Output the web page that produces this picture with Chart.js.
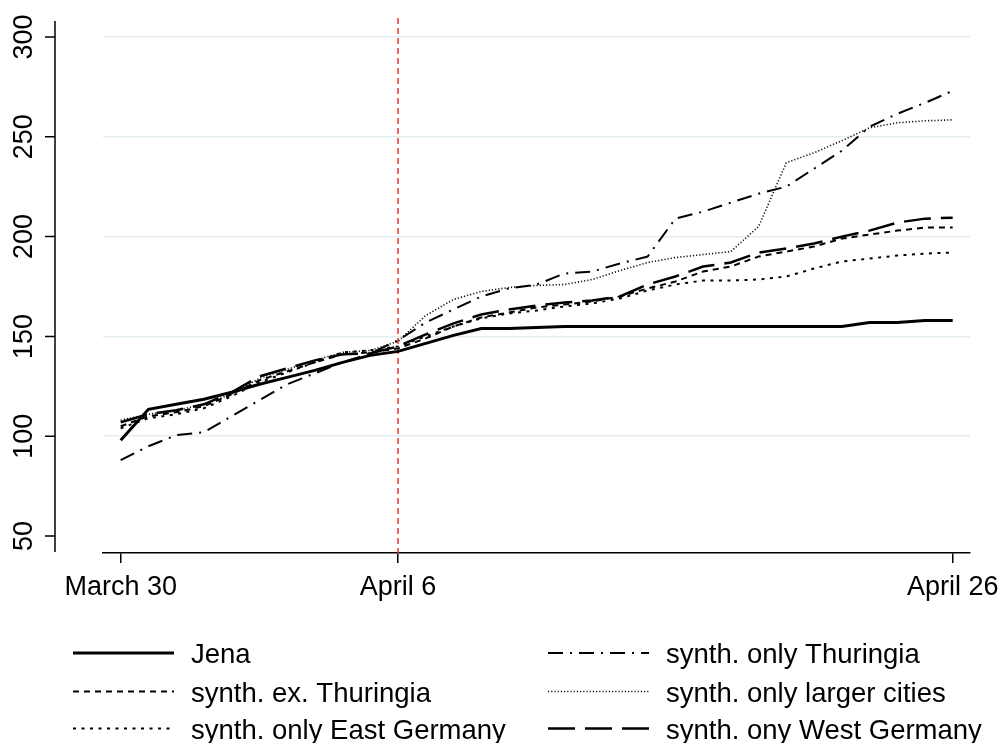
<!DOCTYPE html>
<html>
<head>
<meta charset="utf-8">
<script src="https://cdn.jsdelivr.net/npm/chart.js@4.4.1/dist/chart.umd.min.js"></script>
<style>
  html, body { margin: 0; padding: 0; background: #fff; }
  #wrap { width: 1002px; height: 743px; position: relative; }
</style>
</head>
<body>
<div id="wrap"><canvas id="cases"></canvas></div>
<script>
// period index along the x axis (March 30 = 0, April 6 = 10, April 26 = 30)
const periods = [0, 1, 2, 3, 4, 5, 6, 7, 8, 9, 10, 11, 12, 13, 14, 15, 16, 17, 18, 19, 20, 21, 22, 23, 24, 25, 26, 27, 28, 29, 30];

const xTickValues = [0, 10, 30];
const xTickLabels = ['March 30', 'April 6', 'April 26'];
const yTickValues = [50, 100, 150, 200, 250, 300];
const eventPeriod = 10;

const jena = [98, 113.5, 116, 118.5, 122, 126, 129.5, 133, 137, 140.5, 142.5, 146.5, 150.5, 154, 154, 154.5, 155, 155, 155, 155, 155, 155, 155, 155, 155, 155, 155, 157, 157, 158, 158];
const exThuringia = [105, 110, 112, 115, 121, 128, 132.5, 137, 141, 142, 144, 149, 155, 159.5, 162, 164.5, 166, 167.5, 170, 174, 177.5, 182.5, 185, 190, 192.5, 195, 199, 201, 203, 204.5, 204.5];
const onlyEast = [104, 109, 111, 114, 120, 127, 132, 137, 142, 143, 145, 150, 155, 159, 161.5, 163, 165, 166.5, 169, 173, 176, 178, 178, 178.5, 180, 184, 187.5, 189, 190.5, 191.5, 192];
const onlyThuringia = [88, 95, 100.5, 102, 110, 118, 126, 131.5, 137, 141.5, 148, 157, 163.5, 170, 174, 176, 181.5, 182.5, 186.5, 190, 209, 212.5, 217, 221.5, 225, 234, 243, 255, 261.5, 267, 273];
const largerCities = [108, 111, 113, 116, 121, 129, 133.5, 138, 142, 143, 147.5, 160.5, 168.5, 172.5, 174.5, 175.5, 176, 178.5, 183, 187, 189.5, 191, 192.5, 205, 237, 242, 248, 254.5, 257, 258, 258.5];
const onlyWest = [107, 111, 113, 116, 122, 130, 134, 138, 141, 141.5, 145, 151, 156.5, 161, 163.5, 165.5, 167, 168, 170, 176, 180, 185, 187, 192, 194, 196.5, 200, 203, 207, 209, 209.5];

const seriesNames = ['Jena', 'synth. ex. Thuringia', 'synth. only East Germany', 'synth. only Thuringia', 'synth. only larger cities', 'synth. ony West Germany'];

function toPoints(values) {
  return values.map((v, i) => ({ x: periods[i], y: v }));
}

const lineStyles = [
  { borderColor: '#000', borderWidth: 3, borderDash: [] },
  { borderColor: '#000', borderWidth: 2, borderDash: [6, 5] },
  { borderColor: '#000', borderWidth: 2, borderDash: [3, 5.5] },
  { borderColor: '#000', borderWidth: 2, borderDash: [15, 7, 2, 7] },
  { borderColor: '#111', borderWidth: 1.6, borderDash: [1.2, 2] },
  { borderColor: '#000', borderWidth: 2.5, borderDash: [27, 10] },
];

const seriesValues = [jena, exThuringia, onlyEast, onlyThuringia, largerCities, onlyWest];

const datasets = seriesValues.map((vals, i) => ({
  label: seriesNames[i],
  data: toPoints(vals),
  ...lineStyles[i],
  pointRadius: 0,
  tension: 0,
  fill: false,
}));

const FONT = '"Liberation Sans", Arial, sans-serif';

const stataFrame = {
  id: 'stataFrame',
  beforeDatasetsDraw(chart) {
    const { ctx, chartArea, scales } = chart;
    // red event line
    const ex = scales.x.getPixelForValue(eventPeriod);
    ctx.save();
    ctx.strokeStyle = 'rgb(238,52,52)';
    ctx.lineWidth = 1.5;
    ctx.setLineDash([6, 4]);
    ctx.beginPath();
    ctx.moveTo(ex, chartArea.top - 3);
    ctx.lineTo(ex, chartArea.bottom);
    ctx.stroke();
    ctx.restore();

    // detached y axis
    const ax = 55;
    ctx.save();
    ctx.strokeStyle = '#000';
    ctx.lineWidth = 1.5;
    ctx.beginPath();
    ctx.moveTo(ax, chartArea.top);
    ctx.lineTo(ax, chartArea.bottom - 1);
    yTickValues.forEach((v) => {
      const py = scales.y.getPixelForValue(v);
      ctx.moveTo(ax - 10, py);
      ctx.lineTo(ax, py);
    });
    ctx.stroke();
    ctx.restore();
  },
  afterDraw(chart) {
    const { ctx } = chart;
    const colX = [73, 548];
    const rowBase = [663, 701.5, 738.5];
    chart.data.datasets.forEach((ds, i) => {
      const col = Math.floor(i / 3);
      const row = i % 3;
      const x0 = colX[col];
      const yb = rowBase[row];
      ctx.save();
      ctx.strokeStyle = ds.borderColor;
      ctx.lineWidth = ds.borderWidth;
      ctx.setLineDash(ds.borderDash);
      ctx.beginPath();
      ctx.moveTo(x0, yb - 10);
      ctx.lineTo(x0 + 101, yb - 10);
      ctx.stroke();
      ctx.setLineDash([]);
      ctx.fillStyle = '#000';
      ctx.font = '27.5px ' + FONT;
      ctx.textBaseline = 'alphabetic';
      ctx.fillText(ds.label, x0 + 118, yb);
      ctx.restore();
    });
  },
};

new Chart(document.getElementById('cases'), {
  type: 'line',
  data: { datasets },
  plugins: [stataFrame],
  options: {
    responsive: true,
    maintainAspectRatio: false,
    animation: false,
    devicePixelRatio: 1,
    layout: { padding: { left: 0, right: 32, top: 21, bottom: 140 } },
    plugins: { legend: { display: false }, tooltip: { enabled: false } },
    scales: {
      x: {
        type: 'linear',
        min: -0.638,
        max: 30.624,
        afterBuildTicks: (scale) => { scale.ticks = xTickValues.map((v) => ({ value: v })); },
        afterFit: (scale) => {
          scale.height = 50;
          scale.paddingLeft = 0;
          scale.paddingRight = 0;
        },
        border: { display: true, color: '#000', width: 1.5 },
        grid: { drawOnChartArea: false, drawTicks: true, tickLength: 10, color: '#000', lineWidth: 1.5 },
        ticks: {
          color: '#000',
          font: { family: FONT, size: 27 },
          padding: 8,
          maxRotation: 0,
          autoSkip: false,
          callback: (v) => xTickLabels[xTickValues.indexOf(v)],
        },
      },
      y: {
        min: 41.5,
        max: 308,
        afterBuildTicks: (scale) => { scale.ticks = yTickValues.map((v) => ({ value: v })); },
        afterFit: (scale) => { scale.width = 103; },
        border: { display: false },
        grid: {
          drawTicks: true,
          tickLength: 56,
          tickColor: 'rgba(0,0,0,0)',
          lineWidth: 1.5,
          color: (c) => (c.tick && c.tick.value === 50 ? 'rgba(0,0,0,0)' : '#e4edf0'),
        },
        ticks: {
          color: '#000',
          font: { family: FONT, size: 27 },
          minRotation: 90,
          maxRotation: 90,
          crossAlign: 'center',
          padding: 0,
          callback: (v) => String(v),
        },
      },
    },
  },
});
</script>
</body>
</html>
